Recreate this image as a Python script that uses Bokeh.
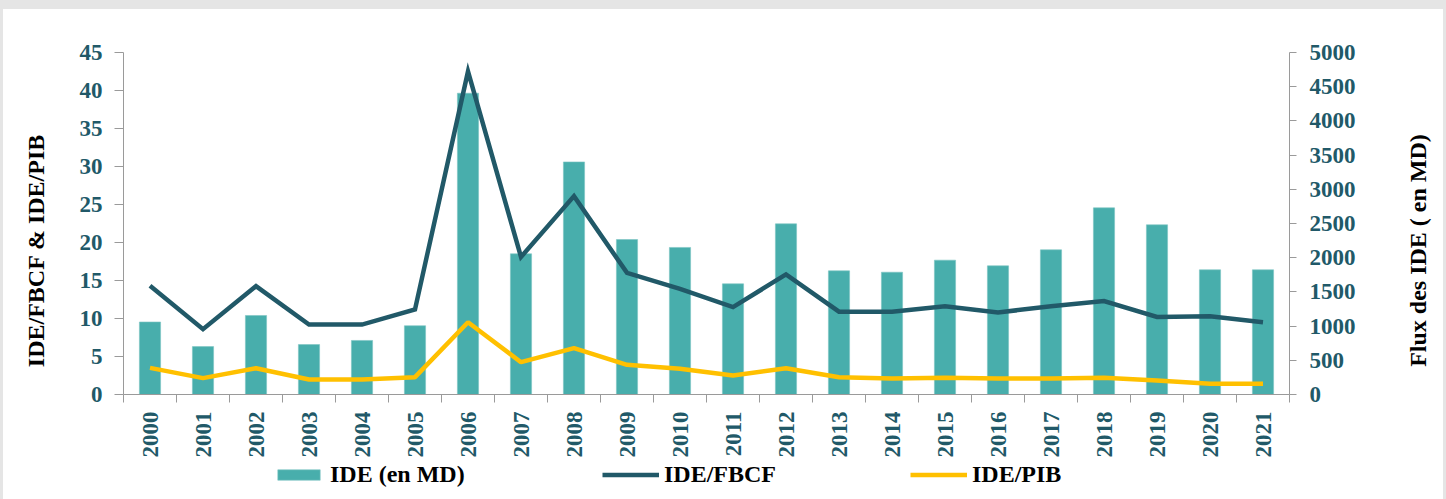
from bokeh.plotting import figure
from bokeh.models import (Range1d, LinearAxis, FixedTicker, Legend, LegendItem,
                          ColumnDataSource)
from bokeh.layouts import column, row
from bokeh.embed import file_html
from bokeh.resources import INLINE
import math

years = ["2000", "2001", "2002", "2003", "2004", "2005", "2006", "2007", "2008",
         "2009", "2010", "2011", "2012", "2013", "2014", "2015", "2016", "2017",
         "2018", "2019", "2020", "2021"]
ide_md = [1060, 700, 1155, 730, 790, 1005, 4405, 2057, 3400, 2266, 2150, 1618,
          2495, 1808, 1788, 1964, 1881, 2115, 2729, 2481, 1823, 1823]
ide_fbcf = [14.3, 8.6, 14.25, 9.2, 9.2, 11.2, 42.5, 18.1, 26.1, 16.0, 13.9, 11.5,
            15.8, 10.9, 10.9, 11.6, 10.8, 11.6, 12.3, 10.2, 10.3, 9.5]
ide_pib = [3.5, 2.15, 3.46, 1.97, 1.97, 2.28, 9.5, 4.25, 6.1, 3.9, 3.4, 2.5,
           3.46, 2.28, 2.1, 2.2, 2.1, 2.1, 2.2, 1.84, 1.4, 1.4]
left_ticks = [0, 5, 10, 15, 20, 25, 30, 35, 40, 45]
right_ticks = [0, 500, 1000, 1500, 2000, 2500, 3000, 3500, 4000, 4500, 5000]
series_names = ["IDE (en MD)", "IDE/FBCF", "IDE/PIB"]
left_title = "IDE/FBCF & IDE/PIB"
right_title = "Flux des IDE ( en MD)"

FONT = "Liberation Serif"
TEAL_DARK = "#215968"
BAR = "#48aeac"
BAR_EDGE = "#7cc5c3"
YELLOW = "#ffc000"
AXIS_GRAY = "#9a9a9a"
PAD = "\u00a0" * 9

pos = list(range(len(years)))
src = ColumnDataSource(dict(x=pos, md=ide_md, fbcf=ide_fbcf, pib=ide_pib))

def clean(fig):
    fig.outline_line_color = None
    fig.xgrid.grid_line_color = None
    fig.ygrid.grid_line_color = None
    fig.border_fill_color = "white"
    fig.background_fill_color = "white"

# ---------------- main chart ----------------
p = figure(width=1366, height=452, output_backend="svg", toolbar_location=None,
           x_range=Range1d(-0.5, len(years) - 0.5),
           y_range=Range1d(left_ticks[0], left_ticks[-1]),
           min_border_left=120, min_border_right=80, min_border_top=43,
           min_border_bottom=67)
clean(p)
p.extra_y_ranges = {"flux": Range1d(right_ticks[0], right_ticks[-1])}

p.vbar(x="x", top="md", width=0.4, source=src, y_range_name="flux",
       fill_color=BAR, line_color=BAR_EDGE, line_width=0.6)
p.line(x="x", y="fbcf", source=src, line_color=TEAL_DARK, line_width=4.5,
       line_join="miter")
p.line(x="x", y="pib", source=src, line_color=YELLOW, line_width=4.5)

def style_axis(ax, size="23px"):
    ax.axis_line_color = AXIS_GRAY
    ax.major_tick_line_color = AXIS_GRAY
    ax.minor_tick_line_color = None
    ax.major_label_text_font = FONT
    ax.major_label_text_font_style = "bold"
    ax.major_label_text_font_size = size
    ax.major_label_text_color = TEAL_DARK
    ax.axis_label_text_font = FONT
    ax.axis_label_text_font_style = "bold"
    ax.axis_label_text_font_size = "24px"
    ax.axis_label_text_color = "black"

# x axis
xa = p.xaxis[0]
style_axis(xa, "23px")
xa.ticker = FixedTicker(ticks=pos, minor_ticks=[i - 0.5 for i in range(len(years) + 1)])
xa.major_label_overrides = {i: y for i, y in zip(pos, years)}
xa.major_tick_out = 0
xa.major_tick_in = 0
xa.minor_tick_line_color = AXIS_GRAY
xa.minor_tick_out = 8
xa.minor_tick_in = 0
xa.major_label_orientation = math.pi / 2
xa.major_label_standoff = 9

# left axis
ya = p.yaxis[0]
style_axis(ya)
ya.ticker = FixedTicker(ticks=left_ticks)
ya.major_tick_out = 9
ya.major_tick_in = 0
ya.major_label_standoff = 12
ya.axis_label = left_title + PAD
ya.axis_label_standoff = 28

# right axis (ticks and labels only)
ra = LinearAxis(y_range_name="flux")
style_axis(ra)
ra.ticker = FixedTicker(ticks=right_ticks)
ra.major_tick_out = 7
ra.major_tick_in = 0
ra.major_label_standoff = 13
p.add_layout(ra, "right")

# ---------------- right title strip ----------------
rp = figure(width=74, height=452, output_backend="svg", toolbar_location=None,
            x_range=Range1d(0, 1), y_range=Range1d(0, 1),
            x_axis_location=None, y_axis_location="left",
            min_border_left=63, min_border_right=0, min_border_top=43,
            min_border_bottom=67)
clean(rp)
rya = rp.yaxis[0]
style_axis(rya)
rya.ticker = FixedTicker(ticks=[])
rya.axis_line_color = None
rya.major_tick_line_color = None
rya.axis_label = right_title + PAD
rya.axis_label_standoff = 2

# ---------------- legend strip ----------------
# the visible window sits far above the data, so only the legend swatches show
lp = figure(width=1440, height=38, output_backend="svg", toolbar_location=None,
            x_range=Range1d(-0.5, len(years) - 0.5), y_range=Range1d(1e6, 1e6 + 1),
            x_axis_location=None, y_axis_location=None,
            min_border_left=120, min_border_right=0, min_border_top=0,
            min_border_bottom=0)
clean(lp)
r_bar = lp.vbar(x="x", top="md", width=0.4, source=src, fill_color=BAR,
                line_color=BAR_EDGE, line_width=0.6)
r_fbcf = lp.line(x="x", y="fbcf", source=src, line_color=TEAL_DARK, line_width=4.5)
r_pib = lp.line(x="x", y="pib", source=src, line_color=YELLOW, line_width=4.5)

for name, r, x, gw in zip(series_names, [r_bar, r_fbcf, r_pib], [149, 479, 787],
                          [53, 57, 57]):
    lg = Legend(items=[LegendItem(label=name, renderers=[r])],
                location=(x, 11), orientation="horizontal",
                border_line_color=None, background_fill_alpha=0,
                padding=0, margin=0, label_standoff=5,
                glyph_width=gw, glyph_height=13,
                label_text_font=FONT, label_text_font_style="bold",
                label_text_font_size="24px", label_text_color="black")
    lp.add_layout(lg)

layout = column(row(p, rp, spacing=0, styles={"background-color": "white"}), lp,
                spacing=0, styles={"background-color": "white"})

html = file_html(layout, INLINE)
html = html.replace(
    "</head>",
    "<style>html,body{background:#e5e5e5 !important;}"
    "body{padding:9px 0 0 3px !important;margin:0 !important;}</style></head>", 1)
open("out.html", "w").write(html)
